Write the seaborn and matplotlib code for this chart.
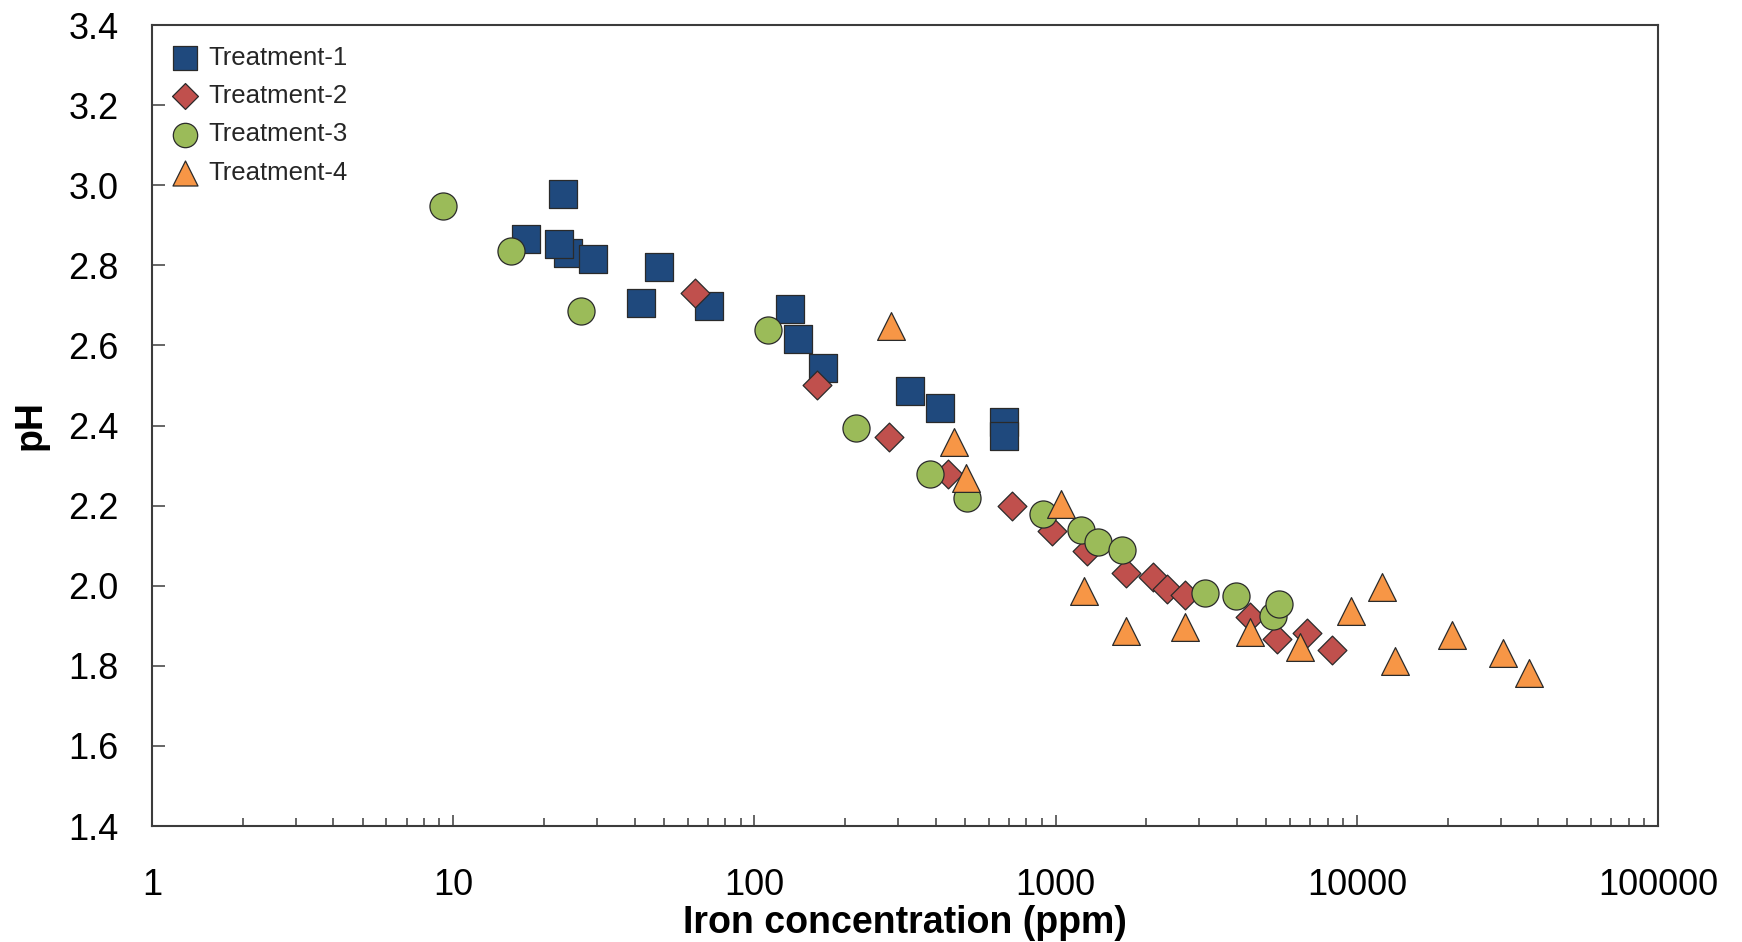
import matplotlib
matplotlib.use("Agg")
import matplotlib.pyplot as plt
import seaborn as sns
from matplotlib.ticker import LogLocator, FixedLocator, FuncFormatter, NullFormatter

# Iron concentration (ppm) and pH for each treatment
t1_iron = [17.5, 24.1, 22.4, 23.1, 29.2, 41.9, 48.3, 70.8, 131, 140, 169, 328, 412, 672, 672]
t1_ph = [2.867, 2.831, 2.854, 2.977, 2.817, 2.706, 2.796, 2.698, 2.690, 2.615, 2.544, 2.486, 2.444, 2.410, 2.375]

t2_iron = [63.7, 161, 280, 440, 717, 975, 1266, 1710, 2110, 2337, 2692, 4430, 5435, 6825, 8300]
t2_ph = [2.731, 2.502, 2.371, 2.280, 2.198, 2.136, 2.088, 2.031, 2.021, 1.992, 1.977, 1.921, 1.868, 1.883, 1.839]

t3_iron = [9.24, 15.6, 26.6, 111, 218, 383, 509, 906, 1211, 1385, 1662, 3134, 3961, 5270, 5510]
t3_ph = [2.948, 2.836, 2.686, 2.639, 2.394, 2.279, 2.219, 2.179, 2.138, 2.108, 2.089, 1.983, 1.975, 1.925, 1.954]

t4_iron = [285, 459, 502, 1040, 1239, 1710, 2692, 4430, 6475, 9530, 12140, 13370, 20750, 30650, 37220]
t4_ph = [2.648, 2.358, 2.270, 2.204, 1.986, 1.887, 1.897, 1.885, 1.847, 1.938, 1.998, 1.812, 1.878, 1.831, 1.783]

series_names = ["Treatment-1", "Treatment-2", "Treatment-3", "Treatment-4"]
x_tick_values = [1, 10, 100, 1000, 10000, 100000]
y_tick_values = [1.4, 1.6, 1.8, 2.0, 2.2, 2.4, 2.6, 2.8, 3.0, 3.2, 3.4]

sns.set_theme(style="white")
plt.rcParams["font.family"] = ["Liberation Sans", "DejaVu Sans"]

fig = plt.figure(figsize=(17.42, 9.42), dpi=100)
ax = fig.add_axes([0.0873, 0.1231, 0.8645, 0.8503])

styles = [
    (t1_iron, t1_ph, "s", "#1F497D", 392),
    (t2_iron, t2_ph, "D", "#C0504D", 215),
    (t3_iron, t3_ph, "o", "#9BBB59", 380),
    (t4_iron, t4_ph, "^", "#F79646", 400),
]

for name, (xs, ys, mk, col, size) in zip(series_names, styles):
    sns.scatterplot(x=xs, y=ys, ax=ax, marker=mk, color=col, s=size,
                    edgecolor="#2a2a2a", linewidth=0.9, label=name, zorder=3)

ax.set_xscale("log")
ax.set_xlim(x_tick_values[0], x_tick_values[-1])
ax.set_ylim(y_tick_values[0], y_tick_values[-1])

ax.xaxis.set_major_locator(FixedLocator(x_tick_values))
ax.xaxis.set_major_formatter(FuncFormatter(lambda v, p: f"{v:.0f}"))
ax.xaxis.set_minor_locator(LogLocator(base=10, subs=range(2, 10)))
ax.xaxis.set_minor_formatter(NullFormatter())
ax.yaxis.set_major_locator(FixedLocator(y_tick_values))
ax.yaxis.set_major_formatter(FuncFormatter(lambda v, p: f"{v:.1f}"))

spine_col = "#3c3c3c"
for sp in ax.spines.values():
    sp.set_color(spine_col)
    sp.set_linewidth(1.5)

ax.tick_params(axis="x", which="major", direction="in", length=8, width=1.1,
               color=spine_col, labelsize=26, pad=30, labelcolor="black",
               bottom=True, top=False)
ax.tick_params(axis="x", which="minor", direction="in", length=6, width=1.1,
               color=spine_col, bottom=True, top=False)
ax.tick_params(axis="y", which="major", direction="in", length=9, width=1.1,
               color=spine_col, labelsize=26, pad=24, labelcolor="black",
               left=True, right=False)

ax.set_xlabel("Iron concentration (ppm)", fontsize=27, fontweight="bold", color="black")
ax.set_ylabel("pH", fontsize=27, fontweight="bold", color="black")
ax.xaxis.set_label_coords(0.5, -0.098)
ax.yaxis.set_label_coords(-0.069, 0.5)

ax.legend(loc="upper left", frameon=False, fontsize=18.5, markerscale=0.9,
          handlelength=1.0, handletextpad=0.38, labelspacing=0.56,
          borderpad=0.35, borderaxespad=0.45, labelcolor="#262626")

fig.savefig("out.png", dpi=100, facecolor="white")
